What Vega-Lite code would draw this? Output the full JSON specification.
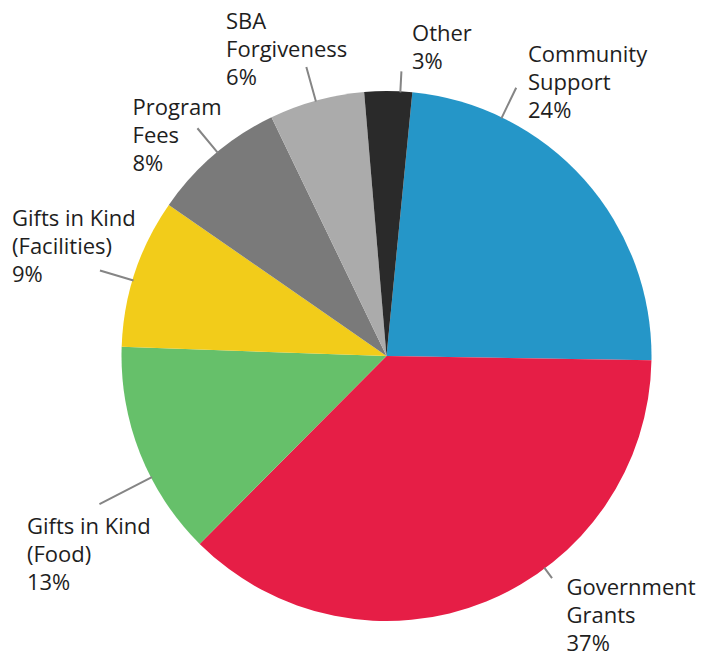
{
  "$schema": "https://vega.github.io/schema/vega-lite/v6.json",
  "autosize": "none",
  "width": 647,
  "height": 596,
  "padding": {"left": 63, "top": 58, "right": 0, "bottom": 0},
  "background": "white",
  "config": {"view": {"stroke": null}},
  "data": {
    "values": [
      {"category": "Community Support", "value": 23.7, "rank": 1, "label": "Community\nSupport\n24%"},
      {"category": "Government Grants", "value": 37.2, "rank": 2, "label": "Government\nGrants\n37%"},
      {"category": "Gifts in Kind (Food)", "value": 13.1, "rank": 3, "label": "Gifts in Kind\n(Food)\n13%"},
      {"category": "Gifts in Kind (Facilities)", "value": 9.1, "rank": 4, "label": "Gifts in Kind\n(Facilities)\n9%"},
      {"category": "Program Fees", "value": 8.2, "rank": 5, "label": "Program\nFees\n8%"},
      {"category": "SBA Forgiveness", "value": 5.8, "rank": 6, "label": "SBA\nForgiveness\n6%"},
      {"category": "Other", "value": 2.9, "rank": 7, "label": "Other\n3%"}
    ]
  },
  "resolve": {"scale": {"theta": "independent", "radius": "independent"}},
  "layer": [
    {
      "mark": {"type": "arc", "outerRadius": 265},
      "encoding": {
        "theta": {"field": "value", "type": "quantitative", "stack": true,
          "scale": {"domain": [0, 100], "range": [0.0977, 6.3809]}},
        "order": {"field": "rank", "type": "quantitative"},
        "color": {"field": "category", "type": "nominal", "legend": null,
          "scale": {
            "domain": ["Community Support", "Government Grants", "Gifts in Kind (Food)", "Gifts in Kind (Facilities)", "Program Fees", "SBA Forgiveness", "Other"],
            "range": ["#2596C8", "#E61E46", "#66C06A", "#F2CC1A", "#7A7A7A", "#ABABAB", "#2A2A2A"]
          }}
      }
    },
    {
      "mark": {"type": "arc", "filled": false, "stroke": "#858585", "strokeWidth": 2, "padAngle": 3.1416, "innerRadius": 264},
      "encoding": {
        "theta": {"field": "value", "type": "quantitative", "stack": true,
          "scale": {"domain": [0, 23.7, 60.9, 74, 83.1, 91.3, 97.1, 100],
                    "range": [-0.3491, 1.2497, 3.7525, 4.7194, 5.2849, 5.8957, 6.1296, 6.5415]}},
        "radius": {"field": "value", "type": "quantitative",
          "scale": {"type": "linear", "zero": false, "nice": false,
                    "domain": [2.9, 5.8, 8.2, 9.1, 13.1, 23.7, 37.2],
                    "range": [285, 300, 296, 299, 323, 298, 277]}},
        "order": {"field": "rank", "type": "quantitative"},
        "detail": {"field": "category", "type": "nominal"}
      }
    },
    {
      "mark": {"type": "text", "align": "left", "baseline": "middle", "font": "Open Sans", "fontSize": 22, "lineHeight": 28, "lineBreak": "\n", "color": "#1E1E1E"},
      "encoding": {
        "theta": {"field": "value", "type": "quantitative", "stack": true,
          "scale": {"domain": [11.85, 42.3, 67.45, 78.55, 87.2, 94.2, 98.55],
                    "range": [0.4400, 2.4812, 4.2676, 5.0622, 5.4851, 5.8357, 6.3623]}},
        "radius": {"field": "value", "type": "quantitative",
          "scale": {"type": "linear", "zero": false, "nice": false,
                    "domain": [2.9, 5.8, 8.2, 9.1, 13.1, 23.7, 37.2],
                    "range": [322.9, 370.8, 354.7, 398.6, 398.3, 332.2, 293.4]}},
        "text": {"field": "label", "type": "nominal"},
        "order": {"field": "rank", "type": "quantitative"},
        "detail": {"field": "category", "type": "nominal"}
      }
    }
  ]
}
